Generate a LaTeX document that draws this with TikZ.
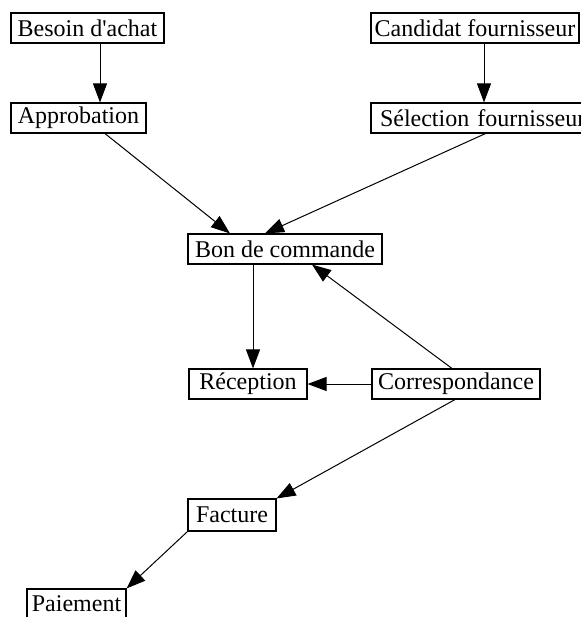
\documentclass[tikz,border=0pt]{standalone}
\usepackage{fontspec}
\setmainfont{Liberation Serif}
\usetikzlibrary{arrows.meta}
\begin{document}
\begin{tikzpicture}[x=1pt,y=-1pt,
  box/.style={draw,line width=1.1pt,minimum height=30pt,inner sep=0pt,
    font=\fontsize{24}{28}\selectfont},
  flow/.style={line width=1pt,-{Triangle[length=19pt,width=14pt]}}]
\useasboundingbox (0,0) rectangle (580,617);
\fill[white] (0,0) rectangle (580,617);
% process steps
\node[box,minimum width=153pt] (besoin) at (87.5,28) {Besoin d\textquotesingle achat};
\node[box,minimum width=208pt] (candidat) at (475,28) {Candidat fournisseur};
\node[box,minimum width=135pt] (approb) at (78.5,118) {Approbation};
\node[box,minimum width=229pt,text width=229pt,align=left] (selection) at (485.5,118) {\hspace*{9pt}Sélection fournisseur};
\node[box,minimum width=194pt] (bon) at (285,249) {Bon de commande};
\node[box,minimum width=118pt] (reception) at (248,384) {Réception};
\node[box,minimum width=168pt] (corresp) at (456,384) {Correspondance};
\node[box,minimum width=88pt,minimum height=32pt] (facture) at (232,515) {Facture};
\node[box,minimum width=99pt] (paiement) at (76.5,604) {Paiement};
% connectors
\draw[flow] ([xshift=12.5pt]besoin.south) -- ([xshift=21.5pt]approb.north);
\draw[flow] ([xshift=9pt]candidat.south) -- ([xshift=-1.5pt]selection.north);
\draw[flow] ([xshift=26.5pt]approb.south) -- ([xshift=-55pt]bon.north);
\draw[flow] (selection.south) -- ([xshift=-20pt]bon.north);
\draw[flow] ([xshift=-32pt]bon.south) -- ([xshift=5pt]reception.north);
\draw[flow] ([xshift=-4pt]corresp.north) -- ([xshift=27pt]bon.south);
\draw[flow] (corresp.west) -- (reception.east);
\draw[flow] ([xshift=-1pt]corresp.south) -- (facture.north east);
\draw[flow] (facture.south west) -- (paiement.north east);
\end{tikzpicture}
\end{document}
